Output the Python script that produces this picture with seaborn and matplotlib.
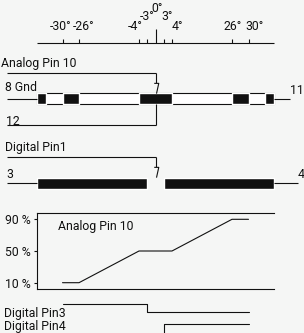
import numpy as np
import matplotlib
matplotlib.use('Agg')
import matplotlib.pyplot as plt
import seaborn as sns

# dial angles in degrees
dial_angles = [-30, -26, -4, -3, 0, 3, 4, 26, 30]
dial_labels = ['-30°', '-26°', '-4°', '-3°', '0°', '3°', '4°', '26°', '30°']

# potentiometer track (start, end) in degrees
track_span = (-40, 40)
track_black = [(-40, -36), (-30, -26), (-4, 4), (26, 30), (36, 40)]
# digital switch track, open around the middle
switch_black = [(-40, -3), (3, 40)]

# analog pin 10 output vs angle
analog_deg = [-30, -26, -4, 4, 26, 30]
analog_pct = [10, 10, 50, 50, 90, 90]
pct_ticks = [10, 50, 90]
pct_labels = ['10 %', '50 %', '90 %']

# digital pin 3 / 4 states vs angle
pin3_deg = [-30, -3, 30]
pin3_val = [1, 1, 0]
pin4_deg = [3, 30]
pin4_val = [0, 1]

sns.set_style('white')
plt.rcParams['font.family'] = ['Roboto', 'DejaVu Sans']
plt.rcParams['font.size'] = 8.8

BG = '#f5f6f5'
INK = '#111111'
W, H = 304, 333

# schematic drawing is not linear in angle: small angles are stretched
deg_k = [-60, -40, -36, -30, -26, -4, -3, 0, 3, 4, 26, 30, 36, 40, 60]
px_k = [-23, 37, 46, 62.5, 79, 139, 147, 155.5, 164, 172, 232, 248.5, 265, 274, 334]
fwd = lambda d: np.interp(d, deg_k, px_k)
inv = lambda p: np.interp(p, px_k, deg_k)

fig = plt.figure(figsize=(W / 100, H / 100), dpi=100, facecolor=BG)
ax = fig.add_axes([0, 0, 1, 1])
ax.set_facecolor(BG)
ax.set_xscale('function', functions=(fwd, inv))
ax.set_xlim(inv(0), inv(W))
ax.set_ylim(H, 0)
ax.axis('off')

lw = 0.8
left = inv(7)

# dial
ax.hlines(43, *track_span, color=INK, lw=lw)
dx = {-30: -2, -26: 5, -4: -4, -3: 0, 0: 2, 3: 3, 4: 5, 26: 1, 30: 6}
for a, lab in zip(dial_angles, dial_labels):
    top = 29 if a == 0 else 39
    ax.vlines(a, top, 43, color=INK, lw=lw)
    yl = 8.5 if a == 0 else (17 if abs(a) == 3 else 27)
    ax.annotate(lab, (a, yl), xytext=(dx[a], 0), textcoords='offset pixels',
                ha='center', va='center', color=INK)

# potentiometer
ax.text(inv(1), 67.3, 'Analog Pin 10', va='baseline', color=INK)
ax.hlines(72.7, left, 0, color=INK, lw=lw)
ax.vlines(0, 72.7, 83, color=INK, lw=lw)
arrow = [(-0.22, 0.5), (0.22, 0.5), (0, -0.5)]
ax.plot(0, 88, marker=arrow, ms=7.4, mfc=BG, mec=INK, mew=0.8)
ax.text(inv(5), 91, '8 Gnd', va='baseline', color=INK)
ax.hlines(98.7, left, track_span[0], color=INK, lw=lw)
ax.hlines(98.7, track_span[1], inv(290), color=INK, lw=lw)
ax.text(inv(290), 94.3, '11', va='baseline', color=INK)
ax.broken_barh([(track_span[0], track_span[1] - track_span[0])], (93.3, 11),
               facecolors='white', edgecolors=INK, lw=lw)
ax.broken_barh([(a, b - a) for a, b in track_black], (93.3, 11), facecolors=INK)
ax.vlines(0, 104.3, 125.3, color=INK, lw=lw)
ax.hlines(125.3, left, 0, color=INK, lw=lw)
ax.text(inv(6.5), 124.6, '12', va='baseline', color=INK)

# digital switch
ax.text(inv(5), 151, 'Digital Pin1', va='baseline', color=INK)
ax.hlines(157.3, left, 0, color=INK, lw=lw)
ax.vlines(0, 157.3, 166.5, color=INK, lw=lw)
ax.plot(0, 171.8, marker=arrow, ms=7.4, mfc=BG, mec=INK, mew=0.8)
ax.text(inv(6.5), 178.3, '3', va='baseline', color=INK)
ax.text(inv(298), 178.3, '4', va='baseline', color=INK)
ax.hlines(183.3, left, track_span[0], color=INK, lw=lw)
ax.hlines(183.3, track_span[1], inv(298), color=INK, lw=lw)
ax.broken_barh([(a, b - a) for a, b in switch_black], (177.7, 11.6), facecolors=INK)

# analog output graph
y_top, y_bot = 213.3, 289.3
axg = fig.add_axes([0, (H - y_bot) / H, 1, (y_bot - y_top) / H], sharex=ax)
axg.patch.set_alpha(0)
sns.lineplot(x=analog_deg, y=analog_pct, ax=axg, color=INK, lw=lw)
k = (282.7 - 219.3) / 80.0
axg.set_ylim(10 - (y_bot - 282.7) / k, 90 + (219.3 - y_top) / k)
axg.set_xlim(inv(0), inv(W))
axg.spines['right'].set_visible(False)
axg.spines['left'].set_position(('data', track_span[0]))
for s in ['top', 'bottom']:
    axg.spines[s].set_bounds(*track_span)
for s in ['left', 'top', 'bottom']:
    axg.spines[s].set_color(INK)
    axg.spines[s].set_linewidth(lw)
axg.set_xticks([])
axg.set_yticks(pct_ticks)
axg.set_yticklabels(pct_labels)
axg.tick_params(axis='y', length=2.5, width=lw, pad=2, colors=INK, left=True)
axg.set_xlabel('')
axg.set_ylabel('')
ax.text(inv(58.3), 230, 'Analog Pin 10', va='baseline', color=INK)


# digital pins, one small axes per pin (1 = high, 0 = low)
def pin_axes(y_hi, y_lo):
    a = fig.add_axes([0, (H - y_lo) / H, 1, (y_lo - y_hi) / H], sharex=ax)
    a.set_ylim(0, 1)
    a.axis('off')
    return a


ax3 = pin_axes(303.7, 312.3)
ax3.step(pin3_deg, pin3_val, where='pre', color=INK, lw=lw, clip_on=False)
ax4 = pin_axes(324.3, 332.9)
ax4.step(pin4_deg, pin4_val, where='pre', color=INK, lw=lw, clip_on=False)
ax4.set_xlim(inv(0), inv(W))
ax.text(inv(4), 316.7, 'Digital Pin3', va='baseline', color=INK)
ax.text(inv(4), 330, 'Digital Pin4', va='baseline', color=INK)

fig.savefig('out.png', dpi=100, facecolor=BG)
